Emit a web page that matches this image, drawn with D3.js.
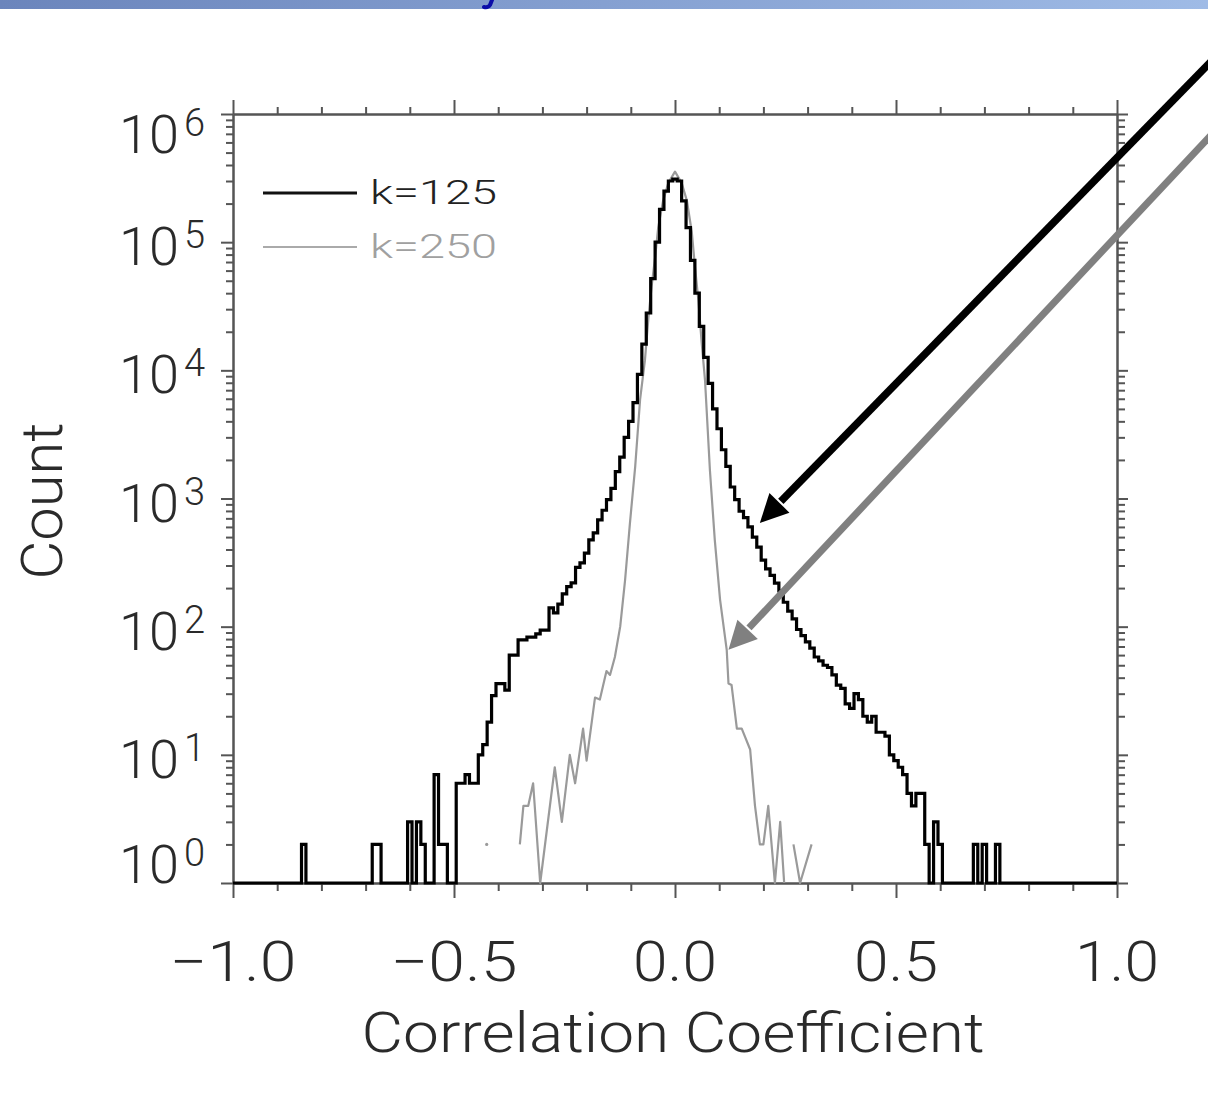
<!DOCTYPE html>
<html>
<head>
<meta charset="utf-8">
<script src="https://cdn.jsdelivr.net/npm/d3@7"></script>
<style>
  body { margin: 0; background: #fff; }
  svg { display: block; }
  text { font-family: Roboto, "Liberation Sans", sans-serif; font-weight: 300; fill: #2a2a2a; }
</style>
</head>
<body>
<svg width="1208" height="1098"></svg>
<script>
// k=125 histogram: one count per 0.01 bin, bins centred on -1.00 ... 1.00
const binStart = -1, binStep = 0.01;
const countK125 = [
  0,0,0,0,0,0,0,0,0,0, 0,0,0,0,0,0,2,0,0,0,
  0,0,0,0,0,0,0,0,0,0, 0,0,2,2,0,0,0,0,0,0,
  3,0,3,2,0,0,7,2,2,0, 0,6,6,7,6,6,10,12,18,29,
  36,36,32,60,60,79,79,83,83,88, 94,94,140,128,150,180,205,220,290,315,
  375,475,540,680,810,980,1200,1620,2100,3000, 4000,5600,9300,16000,28000,52000,100000,180000,250000,300000,
  310000,300000,210000,130000,72000,40000,22000,12600,7900,5000, 3500,2400,1780,1230,980,795,710,600,500,417,
  330,282,251,219,190,155,132,115,95,85, 76,68,58,54,50,48,42,35,33,25,
  23,30,27,20,18,20,15,15,14,10, 9,8,7,5,4,5,5,2,0,3,
  2,0,0,0,0,0,0,0,2,0, 2,0,0,2,0,0,0,0,0,0,
  0,0,0,0,0,0,0,0,0,0, 0,0,0,0,0,0,0,0,0,0, 0
];

// k=250 trace, read vertex by vertex (0 = empty bin, line breaks there)
const rK250 = [-0.426,-0.40,
  -0.351,-0.343,-0.332,-0.321,-0.305,-0.272,-0.256,-0.238,-0.226,-0.208,-0.200,
  -0.181,-0.170,-0.155,-0.147,-0.136,-0.124,-0.113,-0.102,-0.090,-0.079,-0.068,
  -0.060,-0.053,-0.045,-0.038,-0.027,-0.015,0,0.015,0.027,0.038,0.045,0.053,0.060,
  0.068,0.079,0.090,0.102,0.117,0.121,0.128,0.140,0.151,0.170,0.181,0.192,0.200,
  0.211,0.226,0.238,0.247,0.257,0.268,0.283,0.309];
const countK250 = [2,0,
  2,4,4,6,1,8,3,10,6,16,9,
  28,27,45,42,58,100,230,640,1780,5900,12000,
  26000,45000,76000,130000,210000,290000,355000,290000,210000,120000,65000,35000,17000,
  8300,1660,475,162,66,36,35,16,16,11,4,2,2,
  4,1,3,1,0,2,1,2];

const xMajor = [-1, -0.5, 0, 0.5, 1];
const xLabels = ["\u22121.0", "\u22120.5", "0.0", "0.5", "1.0"];
const yDecades = [0, 1, 2, 3, 4, 5, 6];
const legendLabels = ["k=125", "k=250"];
// arrows: [tip r, tip count, tail r, tail count]
const arrowBlack = [0.192, 645, 1.222, 2.77e6];
const arrowGray = [0.121, 66, 1.222, 7.4e5];

const svg = d3.select("svg");

// banner strip at the top, with the tail of a cut-off title letter
const grad = svg.append("defs").append("linearGradient").attr("id", "band");
grad.append("stop").attr("offset", "0%").attr("stop-color", "#6b85bc");
grad.append("stop").attr("offset", "100%").attr("stop-color", "#9fbbe6");
svg.append("rect").attr("x", 0).attr("y", 0).attr("width", 1208).attr("height", 9)
   .attr("fill", "url(#band)");
svg.append("path").attr("d", "M492,0 L490,5 Q488,8 484,7")
   .attr("fill", "none").attr("stroke", "#0a0ca8").attr("stroke-width", 4)
   .attr("stroke-linecap", "round");

const x = d3.scaleLinear().domain([-1, 1]).range([233, 1117]);
const y = d3.scaleLog().domain([1, 1e6]).range([883, 114]);

const xMinor = d3.range(-10, 11).map(d => d / 10).filter(d => !xMajor.some(m => Math.abs(m - d) < 1e-9));
const yMinor = y.ticks().filter(d => Math.abs(Math.log10(d) - Math.round(Math.log10(d))) > 1e-9);
const yMajor = yDecades.map(d => Math.pow(10, d));

function styleAxis(g) {
  g.selectAll("path, line").attr("stroke", "#555").attr("stroke-width", 2);
  g.selectAll("text").remove();
}

function addAxis(maker, pos, ticks, size) {
  svg.append("g").attr("transform", pos)
     .call(maker.tickValues(ticks).tickSize(size).tickSizeOuter(0).tickFormat(""))
     .call(styleAxis);
}

addAxis(d3.axisBottom(x), "translate(0,883)", xMajor, 15);
addAxis(d3.axisBottom(x), "translate(0,883)", xMinor, 8);
addAxis(d3.axisTop(x), "translate(0,114)", xMajor, 14);
addAxis(d3.axisTop(x), "translate(0,114)", xMinor, 7);
addAxis(d3.axisLeft(y), "translate(233,0)", yMajor, 12);
addAxis(d3.axisLeft(y), "translate(233,0)", yMinor, 7);
addAxis(d3.axisRight(y), "translate(1117,0)", yMajor, 11);
addAxis(d3.axisRight(y), "translate(1117,0)", yMinor, 8);

// x tick labels
svg.append("g").selectAll("text").data(xMajor).enter().append("text")
   .attr("x", d => x(d)).attr("y", 981)
   .attr("text-anchor", "middle")
   .attr("textLength", (d, i) => i < 2 ? 127 : 84).attr("lengthAdjust", "spacingAndGlyphs")
   .style("font-size", "55px")
   .text((d, i) => xLabels[i]);

// y tick labels 10^n
const yl = svg.append("g").selectAll("text").data(yDecades).enter().append("text")
   .attr("x", 205)
   .attr("y", d => y(Math.pow(10, d)) + (d === 6 ? 39 : d === 0 ? 0 : 23))
   .attr("text-anchor", "end")
   .style("font-size", "54px");
yl.append("tspan").text("10");
yl.append("tspan").attr("dx", 5).attr("dy", -17).style("font-size", "38px").text(d => d);

// axis titles
svg.append("text").attr("x", 673).attr("y", 1052).attr("text-anchor", "middle")
   .attr("textLength", 623).attr("lengthAdjust", "spacingAndGlyphs")
   .style("font-size", "55px").text("Correlation Coefficient");
svg.append("text").attr("transform", "translate(62,501) rotate(-90)")
   .attr("text-anchor", "middle")
   .attr("textLength", 157).attr("lengthAdjust", "spacingAndGlyphs")
   .style("font-size", "57px").text("Count");

// k=250 trace (grey polyline with gaps)
const pts250 = rK250.map((r, i) => [r, countK250[i]]);
svg.append("path").datum(pts250)
   .attr("fill", "none").attr("stroke", "#9a9a9a").attr("stroke-width", 2.2)
   .attr("stroke-linejoin", "round")
   .attr("d", d3.line().defined(d => d[1] > 0).x(d => x(d[0])).y(d => y(d[1])));
// isolated non-empty bins show as a dot
svg.append("g").selectAll("circle")
   .data(pts250.filter((d, i) => d[1] > 0 && !(pts250[i - 1] && pts250[i - 1][1] > 0) && !(pts250[i + 1] && pts250[i + 1][1] > 0)))
   .enter().append("circle")
   .attr("cx", d => x(d[0])).attr("cy", d => y(d[1])).attr("r", 1.6).attr("fill", "#9a9a9a");

// k=125 histogram (black steps, empty bins sit on the axis)
const pts125 = countK125.map((c, i) => [binStart + i * binStep, Math.max(c, 1)]);
svg.append("path").datum(pts125)
   .attr("fill", "none").attr("stroke", "#000").attr("stroke-width", 3.2)
   .attr("d", d3.line().curve(d3.curveStep).x(d => x(d[0])).y(d => y(d[1])));

// legend
const legend = [{ label: legendLabels[0], line: "#111", text: "#222", w: 3.2, cy: 193 },
                { label: legendLabels[1], line: "#aaa", text: "#a0a0a0", w: 2.2, cy: 247 }];
const lg = svg.append("g").selectAll("g").data(legend).enter().append("g");
lg.append("line").attr("x1", 263).attr("x2", 357).attr("y1", d => d.cy).attr("y2", d => d.cy)
  .attr("stroke", d => d.line).attr("stroke-width", d => d.w);
lg.append("text").attr("x", 370).attr("y", d => d.cy + 11)
  .attr("textLength", 127).attr("lengthAdjust", "spacingAndGlyphs")
  .style("font-size", "34px").style("fill", d => d.text).text(d => d.label);

// pointer arrows
function arrow(a, color, width) {
  const tx = x(a[0]), ty = y(a[1]), sx = x(a[2]), sy = y(a[3]);
  const len = Math.hypot(sx - tx, sy - ty), ux = (sx - tx) / len, uy = (sy - ty) / len;
  const hl = 28, hw = 14;
  const bx = tx + ux * hl, by = ty + uy * hl;
  svg.append("line").attr("x1", sx).attr("y1", sy).attr("x2", bx + ux * 2).attr("y2", by + uy * 2)
     .attr("stroke", color).attr("stroke-width", width);
  svg.append("path")
     .attr("d", `M${tx},${ty}L${bx - uy * hw},${by + ux * hw}L${bx + uy * hw},${by - ux * hw}Z`)
     .attr("fill", color);
}
arrow(arrowBlack, "#000", 7.5);
arrow(arrowGray, "#808080", 7);
</script>
</body>
</html>
